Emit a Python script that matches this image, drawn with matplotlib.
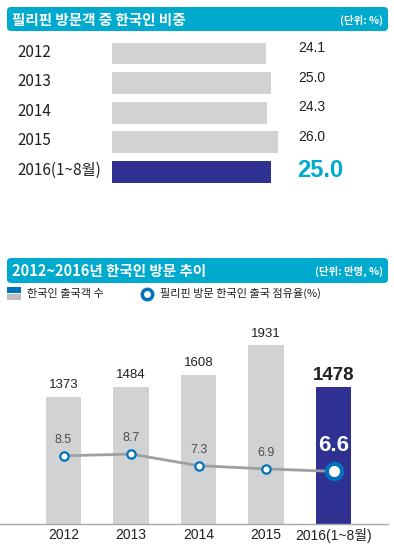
import matplotlib
matplotlib.use("Agg")
import matplotlib.pyplot as plt
import matplotlib.transforms as mtransforms
from matplotlib.patches import FancyBboxPatch, Rectangle

plt.rcParams["font.family"] = ["Liberation Sans Narrow", "Liberation Sans", "Noto Sans CJK KR"]

# data
share_years = ["2012", "2013", "2014", "2015", "2016(1~8월)"]
share_values = [24.1, 25.0, 24.3, 26.0, 25.0]

trend_years = ["2012", "2013", "2014", "2015", "2016(1~8월)"]
visitors = [1373, 1484, 1608, 1931, 1478]
ph_share = [8.5, 8.7, 7.3, 6.9, 6.6]

CYAN = "#00A9CE"
NAVY = "#2E3192"
GRAY = "#D1D2D4"
BLUE = "#0072BC"
TEXT = "#231F20"

W, H = 394, 546
fig = plt.figure(figsize=(W / 100, H / 100), dpi=100)


def px_axes(x0, y0, x1, y1):
    return fig.add_axes([x0 / W, 1 - y1 / H, (x1 - x0) / W, (y1 - y0) / H])


# background layer in pixel coords
bg = px_axes(0, 0, W, H)
bg.set_xlim(0, W)
bg.set_ylim(H, 0)
bg.axis("off")

for (y0, y1, title, unit) in [
    (7, 31, "필리핀 방문객 중 한국인 비중", "(단위: %)"),
    (258, 283, "2012~2016년 한국인 방문 추이", "(단위: 만명, %)"),
]:
    bg.add_patch(FancyBboxPatch((9, y0 + 2), 377, y1 - y0 - 4,
                                boxstyle="round,pad=2,rounding_size=4",
                                fc=CYAN, ec="none"))
    bg.text(12, (y0 + y1) / 2 + 0.5, title, color="white", fontsize=10.5,
            fontweight="bold", va="center", ha="left",
            family=["Liberation Sans Narrow", "Noto Sans CJK KR"])
    bg.text(383, (y0 + y1) / 2 + 1, unit, color="white", fontsize=7.5,
            fontweight="bold", va="center", ha="right",
            family=["Liberation Sans Narrow", "Noto Sans CJK KR"])

# legend of the lower chart
bg.add_patch(Rectangle((7, 287), 14, 5.5, fc=BLUE, ec="none"))
bg.add_patch(Rectangle((7, 294), 14, 6, fc="#BCBEC0", ec="none"))
bg.text(27, 293.5, "한국인 출국객 수", fontsize=8, color=TEXT, va="center",
        family=["Noto Sans CJK KR"])
bg.plot([147], [294], marker="o", ms=7.5, mfc="white", mec=BLUE, mew=2.5)
bg.text(160, 293.5, "필리핀 방문 한국인 출국 점유율(%)", fontsize=8, color=TEXT,
        va="center", family=["Noto Sans CJK KR"])

# ---- top: horizontal bars ----
ax1 = px_axes(112, 38.7, 388, 186.7)
ax1.patch.set_alpha(0)
ax1.set_xlim(0, 276 / 6.37)
ax1.set_ylim(4.5, -0.5)
ax1.axis("off")
colors1 = [GRAY] * 4 + [NAVY]
ax1.barh(range(len(share_values)), share_values, height=0.73, color=colors1)

tr1 = mtransforms.blended_transform_factory(bg.transData, ax1.transData)
for i, (yr, v) in enumerate(zip(share_years, share_values)):
    ax1.text(17, i - 0.05, yr, transform=tr1, fontsize=11, color=TEXT,
             va="center", ha="left",
             family=["Liberation Sans Narrow", "Noto Sans CJK KR"])
    if i == len(share_values) - 1:
        ax1.text(297, i - 0.05, f"{v:.1f}", transform=tr1, fontsize=17,
                 fontweight="bold", color=CYAN, va="center", ha="left")
    else:
        ax1.text(298, i - 0.18, f"{v:.1f}", transform=tr1, fontsize=10,
                 color=TEXT, va="center", ha="left", family=["Liberation Sans"])

# ---- bottom: bars + line ----
ax2 = px_axes(0, 300, 388, 524)
ax2.patch.set_alpha(0)
ax2.set_xlim(-63.5 / 67.5, (388 - 63.5) / 67.5)
ax2.set_ylim(0, 224 / 0.0925)
x = list(range(len(visitors)))
colors2 = [GRAY] * 4 + [NAVY]
ax2.bar(x, visitors, width=0.52, color=colors2)
for s in ["top", "left", "right"]:
    ax2.spines[s].set_visible(False)
ax2.spines["bottom"].set_color("#A7A9AC")
ax2.spines["bottom"].set_linewidth(1)
ax2.set_yticks([])
ax2.set_xticks(x)
ax2.set_xticklabels(trend_years, family=["Liberation Sans", "Noto Sans CJK KR"])
ax2.tick_params(axis="x", length=0, pad=3, labelsize=10, labelcolor=TEXT)

for i, v in enumerate(visitors):
    if i == len(visitors) - 1:
        ax2.annotate(f"{v}", (i, v), xytext=(0, 8.5), textcoords="offset points",
                     ha="center", va="center", fontsize=13.5, fontweight="bold",
                     color=TEXT)
    else:
        ax2.annotate(f"{v}", (i, v), xytext=(0, 8.5), textcoords="offset points",
                     ha="center", va="center", fontsize=9.5, color=TEXT,
                     family=["Liberation Sans"])

ax3 = ax2.twinx()
ax3.set_ylim(0.2, 27.45)
ax3.axis("off")
ax3.plot(x, ph_share, color="#9D9FA2", lw=2, zorder=2)
ax3.plot(x[:-1], ph_share[:-1], ls="none", marker="o", ms=6, mfc="white",
         mec=BLUE, mew=1.6, zorder=3)
ax3.plot(x[-1:], ph_share[-1:], ls="none", marker="o", ms=11, mfc="white",
         mec=BLUE, mew=3, zorder=3)
for i, v in enumerate(ph_share):
    if i == len(ph_share) - 1:
        ax3.annotate(f"{v}", (i, v), xytext=(0, 19), textcoords="offset points",
                     ha="center", va="center", fontsize=16, fontweight="bold",
                     color="white")
    else:
        ax3.annotate(f"{v}", (i, v), xytext=(0, 11.5), textcoords="offset points",
                     ha="center", va="center", fontsize=9, color="#4D4D4F",
                     family=["Liberation Sans"])

fig.savefig("out.png", dpi=100)
